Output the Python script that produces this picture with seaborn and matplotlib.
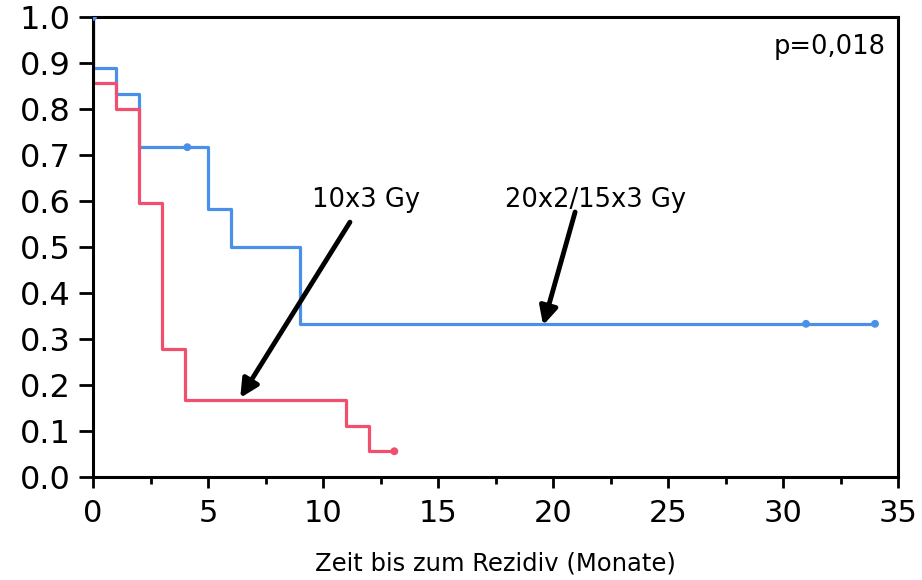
import matplotlib
matplotlib.use("Agg")
import matplotlib.pyplot as plt
import seaborn as sns
import pandas as pd
from matplotlib.ticker import MultipleLocator

sns.set_theme(style="ticks")
plt.rcParams['font.family'] = ['DejaVu Sans']

# Data (Kaplan-Meier step curves)
groups = ["20x2/15x3 Gy", "10x3 Gy"]
blue_time = [0, 0, 1, 2, 5, 6, 9, 34]
blue_surv = [1.0, 0.889, 0.833, 0.717, 0.583, 0.5, 0.333, 0.333]
red_time = [0, 0, 1, 2, 3, 4, 11, 12, 13.1]
red_surv = [1.0, 0.857, 0.8, 0.595, 0.278, 0.167, 0.111, 0.056, 0.056]
blue_cens_t = [0, 4.1, 31, 34]
blue_cens_s = [1.0, 0.717, 0.333, 0.333]
red_cens_t = [13.1]
red_cens_s = [0.056]
x_ticks = [0, 5, 10, 15, 20, 25, 30, 35]
y_ticks = [0.0, 0.1, 0.2, 0.3, 0.4, 0.5, 0.6, 0.7, 0.8, 0.9, 1.0]

colors = {"20x2/15x3 Gy": "#4a90e8", "10x3 Gy": "#f0506e"}

lines = pd.concat([
    pd.DataFrame({"t": blue_time, "s": blue_surv, "g": groups[0]}),
    pd.DataFrame({"t": red_time, "s": red_surv, "g": groups[1]}),
], ignore_index=True)
cens = pd.concat([
    pd.DataFrame({"t": blue_cens_t, "s": blue_cens_s, "g": groups[0]}),
    pd.DataFrame({"t": red_cens_t, "s": red_cens_s, "g": groups[1]}),
], ignore_index=True)

fig = plt.figure(figsize=(9.22, 5.8), dpi=100)
ax = fig.add_axes([0.1009, 0.1776, 0.8731, 0.7931])

sns.lineplot(data=lines, x="t", y="s", hue="g", palette=colors, estimator=None,
             sort=False, drawstyle="steps-post", linewidth=2.3, ax=ax, legend=False)
sns.scatterplot(data=cens, x="t", y="s", hue="g", palette=colors, s=32,
                edgecolor="none", ax=ax, legend=False, zorder=3)

ax.set_xlim(0, 35)
ax.set_ylim(0, 1.0)
ax.set_xticks(x_ticks)
ax.set_yticks(y_ticks)
ax.set_yticklabels([f"{v:.1f}" for v in y_ticks])
ax.xaxis.set_minor_locator(MultipleLocator(2.5))
ax.tick_params(axis="both", which="major", width=2, direction="out",
               color="black", labelcolor="black")
ax.tick_params(axis="x", which="major", length=8, pad=8, labelsize=22)
ax.tick_params(axis="y", which="major", length=10, pad=6, labelsize=23)
ax.tick_params(axis="x", which="minor", width=2, length=5, direction="out", color="black")
for sp in ax.spines.values():
    sp.set_linewidth(2.2)
    sp.set_color("black")
ax.set_xlabel("Zeit bis zum Rezidiv (Monate)", fontsize=17.5, labelpad=17, color="black")
ax.set_ylabel("")

ax.text(0.985, 0.935, "p=0,018", transform=ax.transAxes, ha="right", va="center",
        fontsize=18.5, color="black")

arrow = dict(arrowstyle="-|>,head_length=0.9,head_width=0.45", color="black",
             lw=3.5, shrinkA=0, shrinkB=0)
ax.text(11.87, 0.602, "10x3 Gy", ha="center", va="center", fontsize=18.5, color="black")
ax.annotate("", xy=(6.4, 0.172), xytext=(11.17, 0.554), arrowprops=arrow)
ax.text(21.83, 0.602, "20x2/15x3 Gy", ha="center", va="center", fontsize=18.5, color="black")
ax.annotate("", xy=(19.57, 0.33), xytext=(20.96, 0.576), arrowprops=arrow)

fig.savefig("out.png", dpi=100)
